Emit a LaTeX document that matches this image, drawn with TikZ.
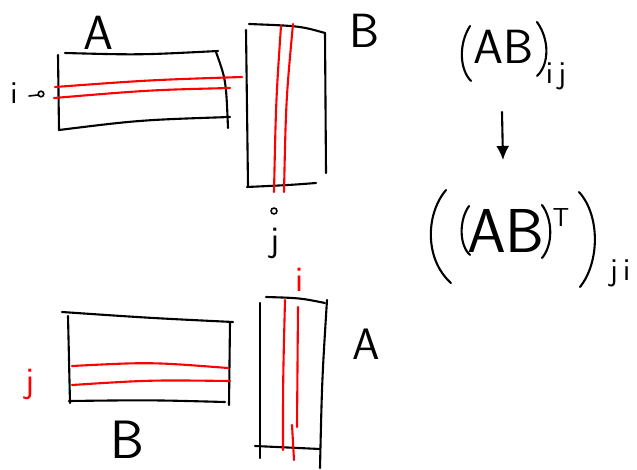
\documentclass[tikz,border=0pt]{standalone}
\usetikzlibrary{arrows.meta}
\usepackage{fontspec}
\setmainfont{DejaVu Sans}
\begin{document}
\begin{tikzpicture}[x=1pt,y=-1pt,
  ink/.style={line width=2.1pt,line cap=round,line join=round,black},
  rink/.style={line width=2.1pt,line cap=round,red},
  lbl/.style={font=\fontsize{48}{50}\selectfont\sffamily},
  sm/.style={font=\fontsize{36}{38}\selectfont\sffamily}]
\useasboundingbox (0,0) rectangle (637,470);
% top A matrix
\draw[ink] (65,53) .. controls (140,55) .. (218,51);
\draw[ink] (58,55) -- (59,130);
\draw[ink] (59,130) .. controls (140,120) .. (230,117);
\draw[ink] (216,52) .. controls (226,80) .. (228,128);
\draw[rink] (55,87) .. controls (150,80) .. (242,77);
\draw[rink] (54,98) .. controls (150,90) .. (230,88);
\node[lbl] (la) at (98,33) {A};
\node[font=\fontsize{32}{34}\selectfont\sffamily] (li) at (14,93) {i};
\draw[ink,line width=1.6pt] (29,96) -- (38,95) (41,94) circle (2.8);
% top B matrix
\draw[ink] (246,30) -- (248,186);
\draw[ink] (249,24) .. controls (300,26) .. (325,33);
\draw[ink] (325,33) -- (326,173);
\draw[ink] (247,187) .. controls (290,185) .. (316,183);
\draw[rink] (281,26) .. controls (276,100) .. (274,192);
\draw[rink] (293,24) .. controls (286,100) .. (284,192);
\node[lbl] (lb) at (365,31) {B};
% between
\node[sm] (lj) at (275,243) {j};
\draw[ink,line width=1.6pt] (274,211) circle (3);
\node[sm,red] (lri) at (300,280) {i};
% bottom B matrix
\draw[ink] (62,312) .. controls (150,318) .. (233,322);
\draw[ink] (68,316) -- (70,403);
\draw[ink] (69,401) .. controls (150,400) .. (225,402);
\draw[ink] (230,322) -- (229,405);
\draw[rink] (72,366) .. controls (150,362) .. (228,368);
\draw[rink] (72,385) .. controls (150,380) .. (230,381);
\node[font=\fontsize{54}{56}\selectfont\sffamily] (lb2) at (127,440) {B};
\node[sm,red] (lrj) at (30,384) {j};
% bottom A matrix
\draw[ink] (266,297) .. controls (300,298) .. (325,303);
\draw[ink] (260,303) -- (260,458);
\draw[ink] (327,300) .. controls (322,380) .. (320,468);
\draw[ink] (255,446) -- (320,449);
\draw[rink] (285,300) .. controls (283,380) .. (283,450);
\draw[rink] (298,307) -- (297,427);
\draw[rink] (292,425) -- (294,460);
\node[font=\fontsize{44}{46}\selectfont\sffamily] (la2) at (366,344) {A};
% formula 1: (AB)_ij
\draw[ink] (470,26) .. controls (458,45) and (460,70) .. (471,81);
\node[font=\fontsize{48}{50}\selectfont\sffamily] (f1) at (504,47) {AB};
\draw[ink] (537,22) .. controls (550,40) and (549,65) .. (537,76);
\node[font=\fontsize{32}{34}\selectfont\sffamily] (f1s) at (556,76) {i\,j};
% arrow
\draw[ink,-{Latex[length=14pt,width=13pt]}] (502,112) -- (503,160);
% formula 2: ((AB)^T)_ji
\draw[ink] (446,190) .. controls (425,215) and (425,260) .. (451,283);
\draw[ink] (469,206) .. controls (459,220) and (459,245) .. (470,255);
\node[font=\fontsize{62}{64}\selectfont\sffamily] (f2) at (506,231) {AB};
\draw[ink] (542,205) .. controls (553,220) and (553,245) .. (542,258);
\node[font=\fontsize{26}{28}\selectfont\sffamily] (f2t) at (561,218) {T};
\draw[ink] (579,192) .. controls (600,215) and (600,262) .. (580,287);
\node[font=\fontsize{32}{34}\selectfont\sffamily] (f2s) at (620,273) {j\,i};
\end{tikzpicture}
\end{document}
